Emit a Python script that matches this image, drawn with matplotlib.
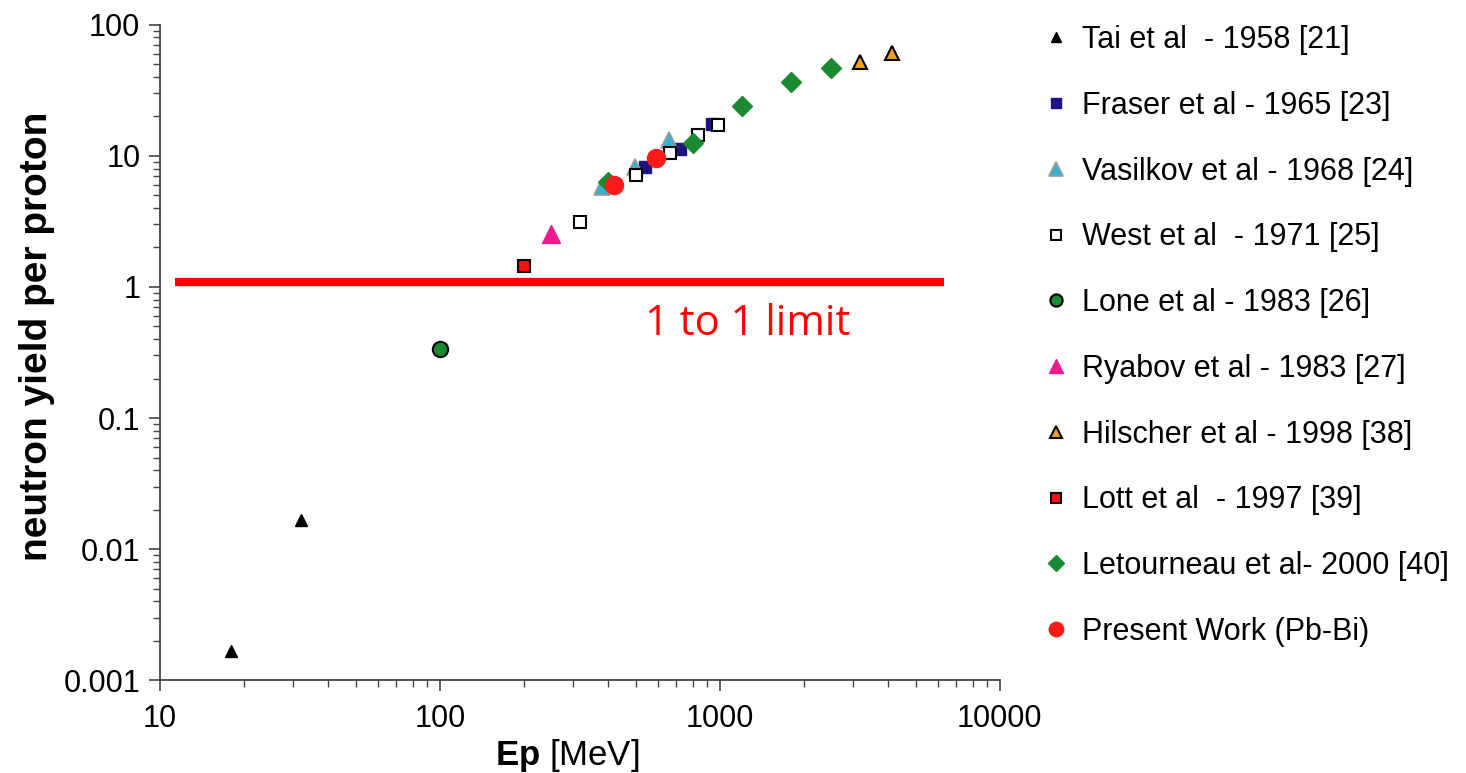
import matplotlib.pyplot as plt
from matplotlib.ticker import LogLocator, FixedLocator, FixedFormatter, NullFormatter

plt.rcParams['font.family'] = ['Liberation Sans', 'DejaVu Sans']
plt.rcParams['mathtext.fontset'] = 'custom'
plt.rcParams['mathtext.rm'] = 'Liberation Sans'
plt.rcParams['mathtext.bf'] = 'Liberation Sans:bold'

# data (E_p in MeV, neutrons per proton)
tai_e = [18, 32, 1200]
tai_y = [0.00166, 0.0166, 25.4]
fraser_e = [540, 720, 935]
fraser_y = [8.2, 11.3, 17.5]
vasilkov_e = [379, 497, 658]
vasilkov_y = [5.8, 8.2, 13.2]
west_e = [316, 501, 662, 834, 984]
west_y = [3.13, 7.16, 10.5, 14.4, 17.3]
lone_e = [100]
lone_y = [0.336]
ryabov_e = [250]
ryabov_y = [2.54]
hilscher_e = [3160, 4110]
hilscher_y = [52.2, 61]
lott_e = [200]
lott_y = [1.44]
letourneau_e = [398, 801, 1200, 1795, 2490]
letourneau_y = [6.3, 12.6, 24.1, 36.7, 47]
present_e = [418, 590]
present_y = [6.0, 9.7]

limit_e = [11.3, 6330]
limit_y = [1.09, 1.09]

labels = ['Tai et al  - 1958 [21]', 'Fraser et al - 1965 [23]',
          'Vasilkov et al - 1968 [24]', 'West et al  - 1971 [25]',
          'Lone et al - 1983 [26]', 'Ryabov et al - 1983 [27]',
          'Hilscher et al - 1998 [38]', 'Lott et al  - 1997 [39]',
          'Letourneau et al- 2000 [40]', 'Present Work (Pb-Bi)']

fig = plt.figure(figsize=(14.66, 7.73), dpi=100)
ax = fig.add_axes([0.109, 0.12, 0.573, 0.848])

ax.plot(limit_e, limit_y, color='#ff0000', lw=6, solid_capstyle='butt', zorder=1)

h = []
h += ax.plot(tai_e, tai_y, '^', color='black', ms=9, ls='none')
h += ax.plot(fraser_e, fraser_y, 's', color='#1c1480', ms=9, ls='none')
h += ax.plot(vasilkov_e, vasilkov_y, '^', mfc='#3ab0d0', mec='#999999', mew=1.2, ms=12, ls='none')
h += ax.plot(west_e, west_y, 's', mfc='white', mec='black', mew=1.5, ms=9, ls='none')
h += ax.plot(lone_e, lone_y, 'o', mfc='#1a8a30', mec='black', mew=1.5, ms=11, ls='none')
h += ax.plot(ryabov_e, ryabov_y, '^', color='#ec1a8c', ms=13, ls='none')
h += ax.plot(hilscher_e, hilscher_y, '^', mfc='#f0a020', mec='black', mew=1.5, ms=10, ls='none')
h += ax.plot(lott_e, lott_y, 's', mfc='#ff1010', mec='black', mew=1.5, ms=9, ls='none')
h += ax.plot(letourneau_e, letourneau_y, 'D', color='#1a8a30', ms=10, ls='none')
h += ax.plot(present_e, present_y, 'o', color='#ff1a1a', ms=13, ls='none')

ax.text(539, 0.43, '1 to 1 limit', color='#ff0000', fontsize=30,
        family=['Open Sans', 'DejaVu Sans'])

ax.set_xscale('log')
ax.set_yscale('log')
ax.set_xlim(10, 10000)
ax.set_ylim(0.001, 100)

ax.yaxis.set_major_locator(FixedLocator([0.001, 0.01, 0.1, 1, 10, 100]))
ax.yaxis.set_major_formatter(FixedFormatter(['0.001', '0.01', '0.1', '1', '10', '100']))
ax.xaxis.set_major_locator(FixedLocator([10, 100, 1000, 10000]))
ax.xaxis.set_major_formatter(FixedFormatter(['10', '100', '1000', '10000']))
ax.xaxis.set_minor_locator(LogLocator(base=10, subs=range(2, 10)))
ax.yaxis.set_minor_locator(LogLocator(base=10, subs=range(2, 10)))
ax.xaxis.set_minor_formatter(NullFormatter())
ax.yaxis.set_minor_formatter(NullFormatter())

for s in ['top', 'right']:
    ax.spines[s].set_visible(False)
for s in ['left', 'bottom']:
    ax.spines[s].set_color('#444444')
    ax.spines[s].set_linewidth(1.3)
ax.tick_params(which='major', length=8, width=1.2, color='#444444', labelsize=22)
ax.tick_params(which='minor', length=5, width=1.0, color='#444444')
ax.tick_params(axis='y', which='major', pad=6)
ax.tick_params(axis='x', which='major', pad=9)

ax.set_ylabel('neutron yield per proton', fontsize=28, fontweight='bold')
ax.yaxis.set_label_coords(-0.125, 0.524)
ax.set_xlabel(r'$\mathbf{Ep}$ [MeV]', fontsize=25)
ax.xaxis.set_label_coords(0.485, -0.086)

fig.legend(h, labels, loc='upper left', bbox_to_anchor=(0.691, 1.003),
           frameon=False, fontsize=22, labelspacing=1.17, handletextpad=0.35,
           handlelength=1.0, markerscale=0.8)

fig.savefig('out.png', dpi=100)
